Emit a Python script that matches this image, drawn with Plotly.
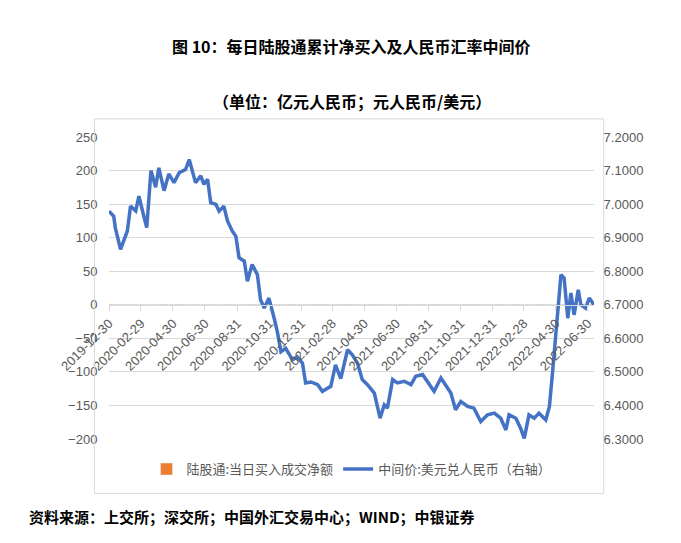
import plotly.graph_objects as go

dates = ["2019-12-30", "2020-01-08", "2020-01-11", "2020-01-21", "2020-02-03", "2020-02-09",
         "2020-02-19", "2020-02-25", "2020-03-06", "2020-03-11", "2020-03-19", "2020-03-28",
         "2020-04-03", "2020-04-13", "2020-04-22", "2020-05-02", "2020-05-12", "2020-05-24",
         "2020-05-31", "2020-06-06", "2020-06-12", "2020-06-22", "2020-06-28", "2020-07-05",
         "2020-07-11", "2020-07-21", "2020-07-27", "2020-08-05", "2020-08-12", "2020-08-21",
         "2020-08-28", "2020-09-03", "2020-09-13", "2020-09-19", "2020-09-28", "2020-10-08",
         "2020-10-14", "2020-10-21", "2020-10-30", "2020-11-09", "2020-11-15", "2020-11-22",
         "2020-12-01", "2020-12-14", "2020-12-23", "2021-01-02", "2021-01-08", "2021-01-18",
         "2021-01-31", "2021-02-09", "2021-02-25", "2021-03-06", "2021-03-16", "2021-03-29",
         "2021-04-07", "2021-04-17", "2021-04-26", "2021-05-06", "2021-05-19", "2021-05-30",
         "2021-06-07", "2021-06-13", "2021-06-23", "2021-07-02", "2021-07-15", "2021-07-28",
         "2021-08-06", "2021-08-19", "2021-08-28", "2021-09-10", "2021-09-23", "2021-10-02",
         "2021-10-12", "2021-10-21", "2021-10-31", "2021-11-13", "2021-11-25", "2021-12-08",
         "2021-12-21", "2022-01-03", "2022-01-15", "2022-01-25", "2022-01-31", "2022-02-13",
         "2022-02-22", "2022-03-01", "2022-03-10", "2022-03-20", "2022-03-29", "2022-04-11",
         "2022-04-18", "2022-04-24", "2022-04-30", "2022-05-10", "2022-05-16", "2022-05-23",
         "2022-05-29", "2022-06-04", "2022-06-12", "2022-06-17", "2022-06-26", "2022-07-03",
         "2022-07-12"]

usdcny = [6.979, 6.964, 6.93, 6.865, 6.92, 6.994,
          6.98, 7.024, 6.96, 6.93, 7.10, 7.05,
          7.108, 7.04, 7.09, 7.064, 7.094, 7.103,
          7.133, 7.098, 7.064, 7.084, 7.059, 7.074,
          7.004, 6.999, 6.979, 6.994, 6.95, 6.92,
          6.904, 6.84, 6.83, 6.77, 6.82, 6.79,
          6.715, 6.69, 6.72, 6.66, 6.62, 6.56,
          6.57, 6.536, 6.545, 6.526, 6.467, 6.47,
          6.462, 6.442, 6.457, 6.521, 6.48, 6.566,
          6.551, 6.526, 6.477, 6.462, 6.437, 6.362,
          6.402, 6.392, 6.477, 6.467, 6.472, 6.462,
          6.487, 6.492, 6.472, 6.442, 6.482, 6.462,
          6.437, 6.387, 6.412, 6.397, 6.392, 6.352,
          6.372, 6.377, 6.362, 6.327, 6.372, 6.362,
          6.332, 6.302, 6.372, 6.362, 6.377, 6.357,
          6.397, 6.50, 6.611, 6.79, 6.78, 6.66,
          6.735, 6.67, 6.745, 6.70, 6.69, 6.72,
          6.70]

# the bar series shows nothing in the picture, only its legend entry
net_buy = [0] * len(dates)

tick_dates = ["2019-12-30", "2020-02-29", "2020-04-30", "2020-06-30", "2020-08-31", "2020-10-31",
              "2020-12-31", "2021-02-28", "2021-04-30", "2021-06-30", "2021-08-31", "2021-10-31",
              "2021-12-31", "2022-02-28", "2022-04-30", "2022-06-30"]

tick_font = dict(family="Liberation Sans, Noto Sans CJK SC", size=13, color="#595959")

fig = go.Figure()
fig.add_trace(go.Bar(x=dates, y=net_buy, name="陆股通:当日买入成交净额",
                     marker_color="#ED7D31"))
fig.add_trace(go.Scatter(x=dates, y=usdcny, name="中间价:美元兑人民币（右轴）",
                         yaxis="y2", mode="lines",
                         line=dict(color="#4472C4", width=3.5)))

fig.update_layout(
    width=681, height=543,
    margin=dict(l=101, r=95, t=129, b=112),
    plot_bgcolor="white", paper_bgcolor="white",
    font=dict(family="Noto Sans CJK SC"),
    xaxis=dict(type="date", range=["2019-12-30", "2022-07-12"],
               tickvals=tick_dates, ticktext=tick_dates, tickangle=-45,
               anchor="free", position=200 / 450, showgrid=False, automargin=False,
               showline=True, linecolor="#D9D9D9", ticks="outside",
               tickcolor="#D9D9D9", ticklen=5, tickfont=tick_font),
    yaxis=dict(range=[-200, 250], dtick=50, showgrid=True, gridcolor="#D9D9D9",
               zeroline=False, tickfont=tick_font, domain=[0, 1], automargin=False,
               ticks="outside", tickcolor="white", ticklen=8),
    yaxis2=dict(range=[6.3, 7.2], dtick=0.1, tickformat=".4f", overlaying="y",
                side="right", showgrid=False, zeroline=False, tickfont=tick_font,
                automargin=False, ticks="outside", tickcolor="white", ticklen=6),
    legend=dict(orientation="h", x=0.5, xanchor="center", y=-0.05, yanchor="top",
                font=dict(size=13, color="#595959")),
    showlegend=True,
)

fig.add_annotation(text="<b>图 10：每日陆股通累计净买入及人民币汇率中间价</b>",
                   xref="paper", yref="paper", x=0.5, y=1, yshift=105, showarrow=False,
                   font=dict(size=16, color="black"))
fig.add_annotation(text="<b>（单位：亿元人民币；元人民币/美元）</b>",
                   xref="paper", yref="paper", x=0.5, y=1, yshift=50, showarrow=False,
                   font=dict(size=16, color="black"))
fig.add_annotation(text="<b>资料来源：上交所；深交所；中国外汇交易中心；WIND；中银证券</b>",
                   xref="paper", yref="paper", x=-0.17, xanchor="left", y=0, yshift=-90,
                   showarrow=False, font=dict(size=15, color="black"))
fig.add_shape(type="rect", xref="paper", yref="paper", x0=-0.03, x1=1.02,
              y0=-0.18, y1=1.06, line=dict(color="#D9D9D9", width=1))

fig.write_html("out.html")
